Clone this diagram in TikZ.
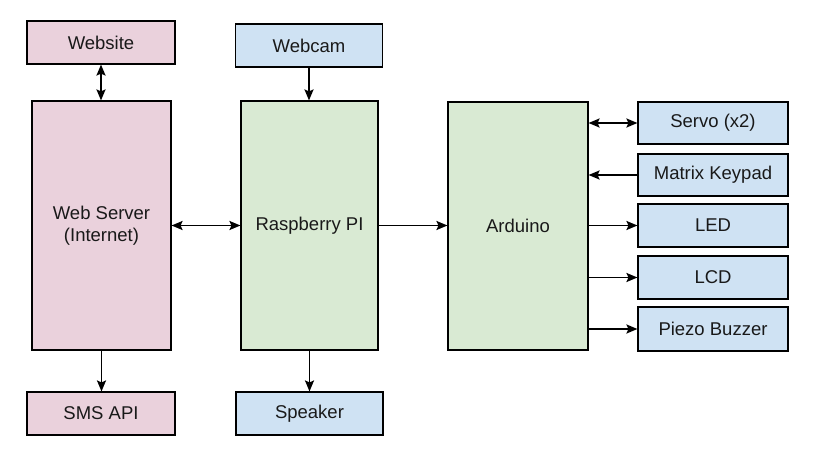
\documentclass[tikz,border=0pt]{standalone}
\usepackage{fontspec}
\setmainfont{Liberation Sans}
\usetikzlibrary{arrows.meta}
\definecolor{pinkbox}{HTML}{EAD1DC}
\definecolor{bluebox}{HTML}{CFE2F3}
\definecolor{greenbox}{HTML}{D9EAD3}
\begin{document}
\begin{tikzpicture}[x=1pt,y=-1pt,
  box/.style={draw=black, line width=1.1pt, inner sep=0pt, align=center,
    font=\fontsize{18.5}{22}\selectfont, text=black!90},
  pinkb/.style={box, fill=pinkbox},
  blueb/.style={box, fill=bluebox},
  greenb/.style={box, fill=greenbox},
  conn/.style={line width=1.9pt, -{Stealth[length=11pt,width=9pt,inset=2pt]}},
  bconn/.style={line width=1.9pt, {Stealth[length=11pt,width=9pt,inset=2pt]}-{Stealth[length=11pt,width=9pt,inset=2pt]}}
]
\useasboundingbox (0,0) rectangle (820,460);
\node[pinkb, minimum width=148pt, minimum height=43pt] (website) at (101,42.5) {Website};
\node[blueb, minimum width=147pt, minimum height=43pt] (webcam) at (309,45.5) {Webcam};
\node[pinkb, minimum width=139pt, minimum height=249pt] (server) at (101.5,225.5) {Web Server\\(Internet)};
\node[greenb, minimum width=137pt, minimum height=249pt] (rpi) at (309.5,225.5) {Raspberry PI};
\node[greenb, minimum width=140pt, minimum height=248pt] (arduino) at (518,226) {Arduino};
\node[blueb, minimum width=150pt, minimum height=42pt] (servo) at (713,123) {Servo (x2)};
\node[blueb, minimum width=150pt, minimum height=42pt] (keypad) at (713,175) {Matrix Keypad};
\node[blueb, minimum width=150pt, minimum height=43pt] (led) at (713,225.5) {LED};
\node[blueb, minimum width=150pt, minimum height=43pt] (lcd) at (713,277.5) {LCD};
\node[blueb, minimum width=150pt, minimum height=44pt] (piezo) at (713,329) {Piezo Buzzer};
\node[pinkb, minimum width=148pt, minimum height=43pt] (sms) at (101,413.5) {SMS API};
\node[blueb, minimum width=147pt, minimum height=43pt] (speaker) at (309.5,413.5) {Speaker};

\draw[bconn] (website.south) -- (website.south |- server.north);
\draw[conn] (webcam.south) -- (webcam.south |- rpi.north);
\draw[bconn] (server.east) -- (server.east -| rpi.west);
\draw[conn] (rpi.east) -- (rpi.east -| arduino.west);
\draw[bconn] (servo.west -| arduino.east) -- (servo.west);
\draw[conn] (keypad.west) -- (keypad.west -| arduino.east);
\draw[conn] (led.west -| arduino.east) -- (led.west);
\draw[conn] (lcd.west -| arduino.east) -- (lcd.west);
\draw[conn] (piezo.west -| arduino.east) -- (piezo.west);
\draw[conn] (server.south) -- (server.south |- sms.north);
\draw[conn] (rpi.south) -- (rpi.south |- speaker.north);
\end{tikzpicture}
\end{document}
